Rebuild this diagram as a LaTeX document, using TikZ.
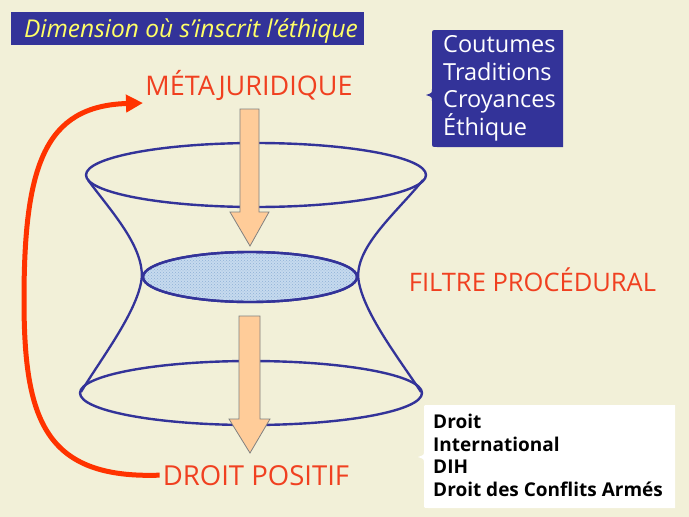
\documentclass[tikz,border=0pt]{standalone}
\usepackage{fontspec}
\setmainfont{Open Sans}
\usetikzlibrary{arrows.meta,shapes.geometric,patterns}
\definecolor{bg}{HTML}{F2F0D8}
\definecolor{navy}{HTML}{333399}
\definecolor{ttl}{HTML}{FFFF66}
\definecolor{rouge}{HTML}{FF3300}
\definecolor{txtred}{HTML}{F04020}
\definecolor{peach}{HTML}{FFCC99}
\definecolor{pale}{HTML}{C6DAEE}
\definecolor{paledot}{HTML}{8FB0D6}
\begin{document}
\begin{tikzpicture}[x=1pt,y=-1pt,
  redlabel/.style={text=txtred, inner sep=0, anchor=base},
  whiteline/.style={text=white, font=\fontsize{23.5}{27}\selectfont, anchor=base west, inner sep=0},
  blackline/.style={text=black, font=\bfseries\fontsize{19}{22}\selectfont, anchor=base west, inner sep=0},
  ring/.style={draw=navy, line width=2.4pt, ellipse, inner sep=0},
  side/.style={draw=navy, line width=2.3pt},
  blockarrow/.style={fill=peach, draw=gray, line width=0.8pt, line join=miter},
  loop/.style={draw=rouge, line width=5pt, -{Triangle[length=17pt,width=17pt]}}]
\fill[bg] (0,0) rectangle (689,517);
\useasboundingbox (0,0) rectangle (689,517);

% title
\node[fill=navy, minimum width=353pt, minimum height=33pt, inner sep=0] (titlebox) at (187.5,28.5) {};
\node[text=ttl, font=\itshape\fontsize{24.5}{26}\selectfont, anchor=base, inner sep=0] (title) at (191,37.5) {Dimension où s’inscrit l’éthique};

% blue brace box
\fill[navy] (563,30) -- (437,30) .. controls (432,30) .. (432,35) -- (432,89)
  .. controls (432,93) .. (426,95) .. controls (432,97) .. (432,101) -- (432,142)
  .. controls (432,147) .. (437,147) -- (563,147) -- cycle;
\node[whiteline] (l1) at (443,52) {Coutumes};
\node[whiteline] (l2) at (443,80) {Traditions};
\node[whiteline] (l3) at (443,107.5) {Croyances};
\node[whiteline] (l4) at (443,135) {Éthique};

% white brace box
\fill[white] (675,405) -- (428,405) .. controls (424,405) .. (424,409) -- (424,451)
  .. controls (424,455) .. (418,457) .. controls (424,459) .. (424,463) -- (424,504)
  .. controls (424,508) .. (428,508) -- (675,508) -- cycle;
\node[blackline] (b1) at (433,428) {Droit};
\node[blackline] (b2) at (433,451) {International};
\node[blackline] (b3) at (433,473.5) {DIH};
\node[blackline] (b4) at (433,496) {Droit des Conflits Armés};

% labels
\node[redlabel, font=\fontsize{27}{30}\selectfont] (meta) at (249,95) {MÉTAJURIDIQUE};
\node[redlabel, font=\fontsize{25.5}{28}\selectfont] (filtre) at (532.5,291) {FILTRE PROCÉDURAL};
\node[redlabel, font=\fontsize{27.5}{30}\selectfont] (droit) at (256,485) {DROIT POSITIF};

% hourglass
\node[ring, minimum width=340pt, minimum height=64pt] (top) at (256,175) {};
\node[ring, minimum width=342pt, minimum height=64pt] (bot) at (251,393) {};
\node[ring, minimum width=214pt, minimum height=50pt, fill=pale] (mid) at (250,277) {};
\fill[pattern=crosshatch dots, pattern color=paledot] (250,277) ellipse [x radius=105, y radius=23];
\draw[ring] (250,277) ellipse [x radius=107, y radius=25];
\draw[side] (88,180) .. controls (110,210) and (143,245) .. (mid.west)
  .. controls (139,310) and (100,360) .. (81,392);
\draw[side] (423,180) .. controls (397,212) and (357,245) .. (mid.east)
  .. controls (361,310) and (400,360) .. (421,392);

% block arrows
\draw[blockarrow] (240,109) -- (259,109) -- (259,212) -- (269,212) -- (250,246)
  -- (230,212) -- (240,212) -- cycle;
\draw[blockarrow] (239,316) -- (260,316) -- (260,419) -- (270,419) -- (250,453)
  -- (229,419) -- (239,419) -- cycle;

% feedback loop arrow
\coordinate (loopend) at (143,103);
\draw[loop] ([xshift=-3pt]droit.west) .. controls (45,479) and (24,420) .. (24,300)
  .. controls (24,165) and (45,106) .. (loopend);
\end{tikzpicture}
\end{document}
